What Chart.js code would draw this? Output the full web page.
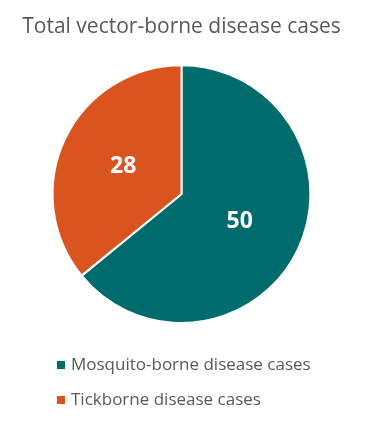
<!DOCTYPE html>
<html>
<head>
<meta charset="utf-8">
<script src="https://cdn.jsdelivr.net/npm/chart.js@4.4.0/dist/chart.umd.min.js"></script>
<style>
  html, body { margin: 0; padding: 0; background: #ffffff; }
  #wrap { width: 366px; height: 425px; position: relative; }
</style>
</head>
<body>
<div id="wrap"><canvas id="chart" width="366" height="425"></canvas></div>
<script>
const CATEGORIES = [
  'Mosquito-borne disease cases',
  'Tickborne disease cases'
]

const CASES = [50, 28]

const SLICE_COLORS = ['#006B6C', '#D9541E']

const TITLE = 'Total vector-borne disease cases'

const FONT = '"Open Sans", "Noto Sans", sans-serif'

// value labels in the middle of each slice
const sliceLabels = {
  id: 'sliceLabels',
  afterDatasetsDraw(chart) {
    const ctx = chart.ctx
    const meta = chart.getDatasetMeta(0)
    ctx.save()
    ctx.fillStyle = '#ffffff'
    ctx.font = 'bold 23px ' + FONT
    ctx.textAlign = 'center'
    ctx.textBaseline = 'middle'
    meta.data.forEach((arc, i) => {
      const p = arc.tooltipPosition()
      ctx.fillText(String(chart.data.datasets[0].data[i]), p.x, p.y)
    })
    ctx.restore()
  }
}

// legend stacked under the pie, left aligned
const stackedLegend = {
  id: 'stackedLegend',
  afterDraw(chart) {
    const ctx = chart.ctx
    const left = 57
    const top = chart.chartArea.bottom + 41
    const rowGap = 35
    ctx.save()
    ctx.font = '17px ' + FONT
    ctx.textBaseline = 'middle'
    chart.data.labels.forEach((label, i) => {
      const y = top + i * rowGap
      ctx.fillStyle = chart.data.datasets[0].backgroundColor[i]
      ctx.fillRect(left, y - 4, 8, 8)
      ctx.fillStyle = '#595959'
      ctx.fillText(label, left + 14, y)
    })
    ctx.restore()
  }
}

new Chart(document.getElementById('chart'), {
  type: 'pie',
  data: {
    labels: CATEGORIES,
    datasets: [
      {
        data: CASES,
        backgroundColor: SLICE_COLORS,
        borderColor: '#ffffff',
        borderWidth: 2
      }
    ]
  },
  options: {
    responsive: false,
    animation: false,
    layout: {
      padding: { left: 0, right: 3, top: 0, bottom: 101 }
    },
    plugins: {
      legend: { display: false },
      tooltip: { enabled: false },
      title: {
        display: true,
        text: TITLE,
        color: '#595959',
        font: { family: FONT, size: 21, weight: 'normal' },
        padding: { top: 14, bottom: 25 }
      }
    }
  },
  plugins: [sliceLabels, stackedLegend]
})
</script>
</body>
</html>
